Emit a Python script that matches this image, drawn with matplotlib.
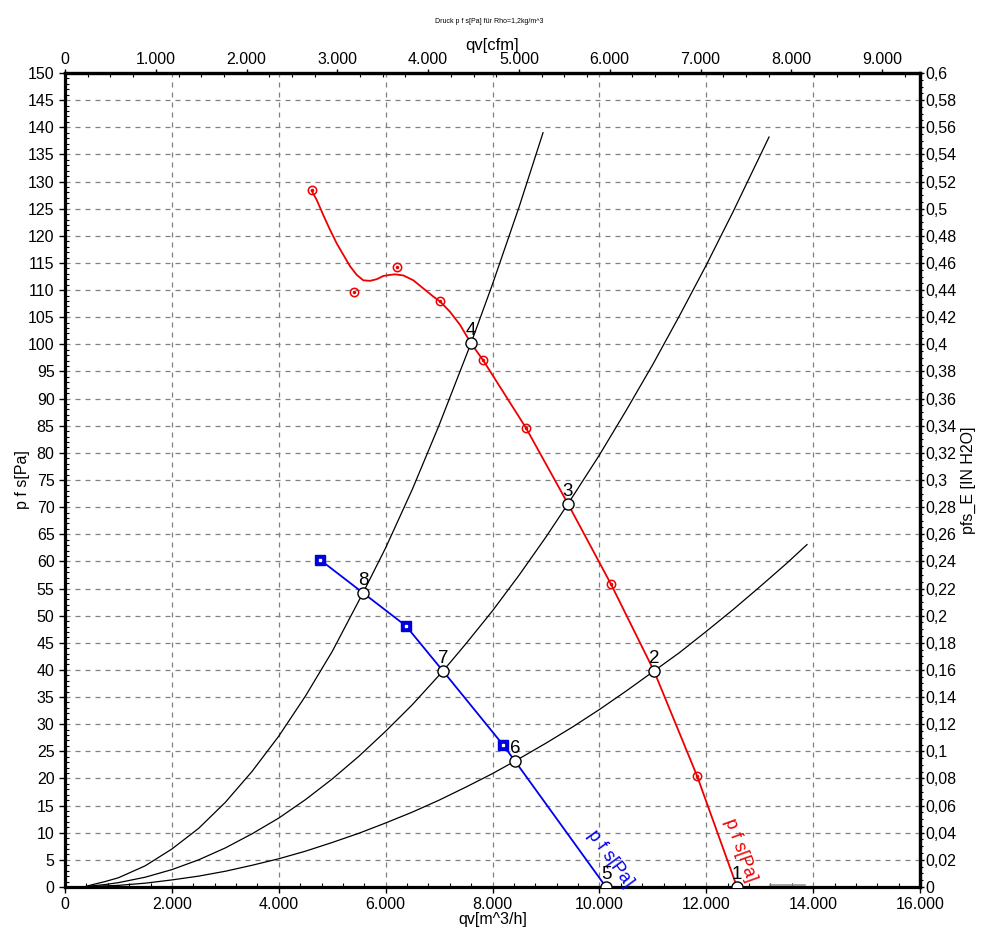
import numpy as np
import matplotlib.pyplot as plt
from matplotlib.ticker import MultipleLocator, FuncFormatter

plt.rcParams['font.family'] = ['Liberation Sans', 'DejaVu Sans']

# fan curve p f s [Pa] (red)
red_q = [4616, 4710, 4834, 4959, 5084, 5208, 5333, 5458, 5582, 5707, 5832,
         5956, 6082, 6175, 6331, 6518, 6705, 6892, 7017, 7204, 7391, 7597,
         7822, 8626, 9412, 10217, 11022, 11826, 12575]
red_p = [128.3, 126.6, 123.8, 121.1, 118.6, 116.5, 114.4, 112.8, 111.8, 111.7,
         112.0, 112.6, 112.8, 112.9, 112.7, 111.8, 110.3, 108.8, 107.9, 106.0,
         103.6, 100.2, 97.1, 84.6, 70.6, 55.8, 39.8, 20.5, 0.0]
red_meas_q = [4620, 5410, 6210, 7020, 7820, 8630, 10220, 11830]
red_meas_p = [128.4, 109.6, 114.2, 108.0, 97.1, 84.6, 55.8, 20.5]

# second fan curve (blue)
blue_q = [4772, 5576, 6381, 7073, 8196, 8421, 10123]
blue_p = [60.3, 54.2, 48.1, 39.8, 26.2, 23.2, 0.0]
blue_meas_q = [4772, 6381, 8196]
blue_meas_p = [60.3, 48.1, 26.2]

# system curves (black)
sysA_q = [350, 500, 750, 1000, 1500, 2000, 2500, 3000, 3500, 4000, 4500, 5000,
          5576, 6000, 6500, 7000, 7597, 8000, 8500, 8945]
sysA_p = [0.0, 0.4, 1.0, 1.7, 3.9, 7.0, 10.8, 15.6, 21.3, 27.8, 35.2, 43.4,
          54.2, 62.5, 73.3, 85.1, 100.2, 111.1, 125.4, 139.0]
sysB_q = [350, 500, 750, 1000, 1500, 2000, 2500, 3000, 3500, 4000, 4500, 5000,
          5500, 6000, 6500, 7073, 7500, 8000, 8500, 9000, 9412, 10000, 10500,
          11000, 11500, 12000, 12500, 13174]
sysB_p = [0.0, 0.2, 0.45, 0.8, 1.8, 3.2, 5.0, 7.2, 9.8, 12.7, 16.1, 19.9,
          24.1, 28.7, 33.6, 39.8, 44.8, 50.9, 57.5, 64.5, 70.6, 79.6, 87.8,
          96.3, 105.3, 114.6, 124.4, 138.2]
sysC_q = [350, 500, 1000, 1500, 2000, 2500, 3000, 3500, 4000, 4500, 5000, 5500,
          6000, 6500, 7000, 7500, 8000, 8421, 9000, 9500, 10000, 10500, 11022,
          11500, 12000, 12500, 13000, 13500, 13885]
sysC_p = [0.0, 0.1, 0.3, 0.7, 1.3, 2.0, 2.9, 4.0, 5.2, 6.6, 8.2, 9.9,
          11.8, 13.8, 16.0, 18.4, 20.9, 23.2, 26.5, 29.5, 32.7, 36.1, 39.8,
          43.2, 47.1, 51.1, 55.3, 59.6, 63.1]

# operating points 1..8
op_labels = ['1', '2', '3', '4', '5', '6', '7', '8']
op_q = [12575, 11022, 9412, 7597, 10123, 8421, 7073, 5576]
op_p = [0.0, 39.8, 70.6, 100.2, 0.0, 23.2, 39.8, 54.2]

fig = plt.figure(figsize=(9.93, 9.52), dpi=100)
ax = fig.add_axes([0.0655, 0.0683, 0.861, 0.855])

ax.set_xlim(0, 16000)
ax.set_ylim(0, 150)

ax.grid(True, which='major', color='#808080', linestyle=(0, (4, 4)), linewidth=0.9)
ax.set_axisbelow(True)

for q, p in [(sysA_q, sysA_p), (sysB_q, sysB_p), (sysC_q, sysC_p)]:
    ax.plot(q, p, color='black', lw=0.9)
ax.plot([13200, 13850], [0.3, 0.3], color='#999999', lw=1.2)

ax.plot(red_q, red_p, color='#ee0000', lw=1.3)
ax.plot(red_meas_q, red_meas_p, 'o', mfc='none', mec='#ee0000', ms=6, mew=1.1)
ax.plot(red_meas_q, red_meas_p, 'o', color='#ee0000', ms=1.5)

ax.plot(blue_q, blue_p, color='#0000ee', lw=1.3)
ax.plot(blue_meas_q, blue_meas_p, 's', color='#0000dd', ms=7.5)
ax.plot(blue_meas_q, blue_meas_p, 's', color='white', ms=2)

ax.plot(op_q, op_p, 'o', mfc='white', mec='black', ms=8, mew=1.0, zorder=5)
for lab, q, p in zip(op_labels, op_q, op_p):
    ax.annotate(lab, (q, p), xytext=(0, 3), textcoords='offset points',
                ha='center', va='bottom', fontsize=13.5, zorder=6)

ax.text(12640, 6.8, 'p f s[Pa]', color='#ee0000', fontsize=13,
        rotation=-70, ha='center', va='center')
ax.text(10200, 5.3, 'p f s[Pa]', color='#0000ee', fontsize=13,
        rotation=-54, ha='center', va='center')

for s in ax.spines.values():
    s.set_linewidth(2.3)

ax.xaxis.set_major_locator(MultipleLocator(2000))
ax.xaxis.set_minor_locator(MultipleLocator(400))
ax.yaxis.set_major_locator(MultipleLocator(5))
ax.yaxis.set_minor_locator(MultipleLocator(1))
ax.xaxis.set_major_formatter(FuncFormatter(lambda v, _: f'{v:,.0f}'.replace(',', '.')))
ax.tick_params(which='major', direction='out', length=4, width=1, labelsize=11.5)
ax.tick_params(which='minor', direction='in', length=3, width=0.8)
ax.set_xlabel('qv[m^3/h]', fontsize=11.5, labelpad=0)
ax.set_ylabel('p f s[Pa]', fontsize=11.5)
ax.yaxis.set_label_coords(-0.041, 0.5)

top = ax.secondary_xaxis('top', functions=(lambda q: q * 0.5886, lambda c: c / 0.5886))
top.xaxis.set_major_locator(MultipleLocator(1000))
top.xaxis.set_minor_locator(MultipleLocator(250))
top.xaxis.set_major_formatter(FuncFormatter(lambda v, _: f'{v:,.0f}'.replace(',', '.')))
top.tick_params(which='major', direction='out', length=3, width=1, labelsize=11.5, pad=1)
top.tick_params(which='minor', direction='in', length=3, width=0.8)
top.set_xlabel('qv[cfm]', fontsize=12, labelpad=2)
top.spines['top'].set_linewidth(2.3)

right = ax.secondary_yaxis('right', functions=(lambda p: p / 250.0, lambda h: h * 250.0))
right.yaxis.set_major_locator(MultipleLocator(0.02))
right.yaxis.set_minor_locator(MultipleLocator(0.005))
right.yaxis.set_major_formatter(FuncFormatter(lambda v, _: ('%g' % round(v, 2)).replace('.', ',')))
right.tick_params(which='major', direction='out', length=3, width=1, labelsize=11.5, pad=1)
right.tick_params(which='minor', direction='out', length=2, width=0.8)
right.set_ylabel('pfs_E [IN H2O]', fontsize=11.5, labelpad=3)
right.spines['right'].set_linewidth(2.3)

fig.text(0.493, 0.977, 'Druck p f s[Pa] für Rho=1,2kg/m^3', fontsize=5,
         ha='center', va='center')

fig.savefig('out.png', dpi=100)
